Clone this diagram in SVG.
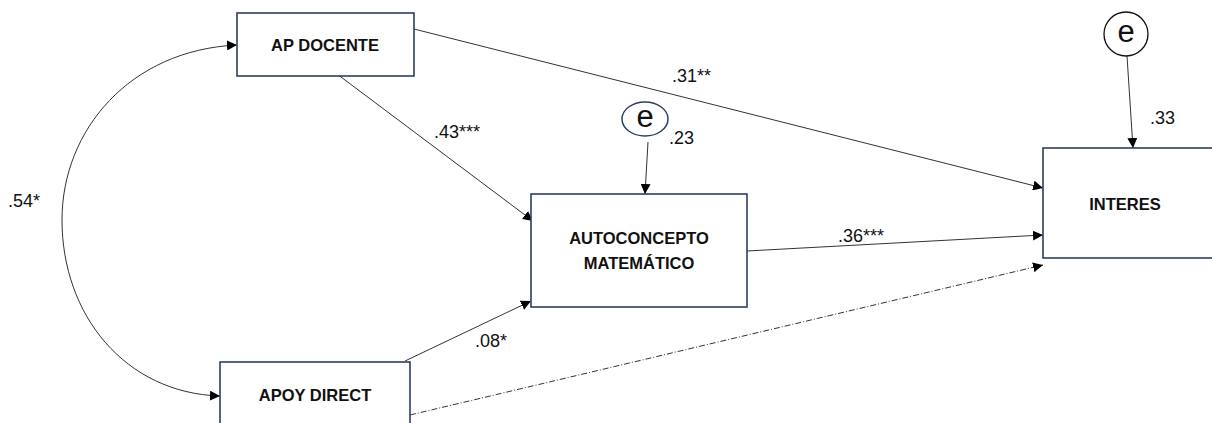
<svg xmlns="http://www.w3.org/2000/svg" width="1212" height="423" viewBox="0 0 1212 423">
<style>
.box{fill:#fff;stroke:#2f3f5f;stroke-width:1.6}
.nl{font-family:"Liberation Sans",Arial,sans-serif;font-weight:bold;font-size:16.5px;fill:#111;text-anchor:middle}
.lb{font-family:"Liberation Sans",Arial,sans-serif;font-size:18px;fill:#111}
.ee{font-family:"Liberation Sans",Arial,sans-serif;font-size:31px;fill:#111;text-anchor:middle}
.c{fill:none;stroke:#333;stroke-width:1}
</style>
<defs>
<marker id="ah" viewBox="0 0 10 10" refX="10" refY="5" markerWidth="10" markerHeight="10" markerUnits="userSpaceOnUse" orient="auto-start-reverse">
<path d="M0,0 L10,5 L0,10 z" fill="#000"/>
</marker>
</defs>
<g id="connectors">
<path class="c" d="M237,45 C130,50 62,130 62,220 C62,315 125,393 220,396" marker-start="url(#ah)" marker-end="url(#ah)"/>
<line class="c" x1="414" y1="29" x2="1043" y2="188" marker-end="url(#ah)"/>
<line class="c" x1="337" y1="74" x2="533" y2="221" marker-end="url(#ah)"/>
<line class="c" x1="747" y1="251" x2="1043" y2="235" marker-end="url(#ah)"/>
<line class="c" x1="405" y1="361" x2="531" y2="301" marker-end="url(#ah)"/>
<line class="c" x1="410" y1="415" x2="1043" y2="265" stroke-dasharray="6,2,1,2" marker-end="url(#ah)"/>
<line class="c" x1="648" y1="142" x2="645" y2="194" marker-end="url(#ah)"/>
<line class="c" x1="1127" y1="56" x2="1133" y2="148" marker-end="url(#ah)"/>
</g>
<g id="ap-docente">
<rect class="box" x="237" y="13" width="177" height="63"/>
<text class="nl" x="325" y="51">AP DOCENTE</text>
</g>
<g id="apoy-direct">
<rect class="box" x="220" y="362" width="190" height="70"/>
<text class="nl" x="315" y="401">APOY DIRECT</text>
</g>
<g id="autoconcepto">
<rect class="box" x="531" y="194" width="216" height="113"/>
<text class="nl" x="639" y="244">AUTOCONCEPTO</text>
<text class="nl" x="639" y="269">MATEMÁTICO</text>
</g>
<g id="interes">
<rect class="box" x="1043" y="148" width="175" height="110"/>
<text class="nl" x="1125" y="210">INTERES</text>
</g>
<g id="e1">
<ellipse cx="645" cy="119" rx="23" ry="17" fill="#fff" stroke="#2f3f5f" stroke-width="1.5"/>
<text class="ee" x="645" y="127">e</text>
</g>
<g id="e2">
<circle cx="1126" cy="34" r="22" fill="#fff" stroke="#111" stroke-width="1.3"/>
<text class="ee" x="1126" y="42">e</text>
</g>
<g id="labels">
<text class="lb" x="8" y="207">.54*</text>
<text class="lb" x="672" y="82">.31**</text>
<text class="lb" x="434" y="138">.43***</text>
<text class="lb" x="838" y="242">.36***</text>
<text class="lb" x="475" y="347">.08*</text>
<text class="lb" x="669" y="144">.23</text>
<text class="lb" x="1150" y="124">.33</text>
</g>
</svg>
